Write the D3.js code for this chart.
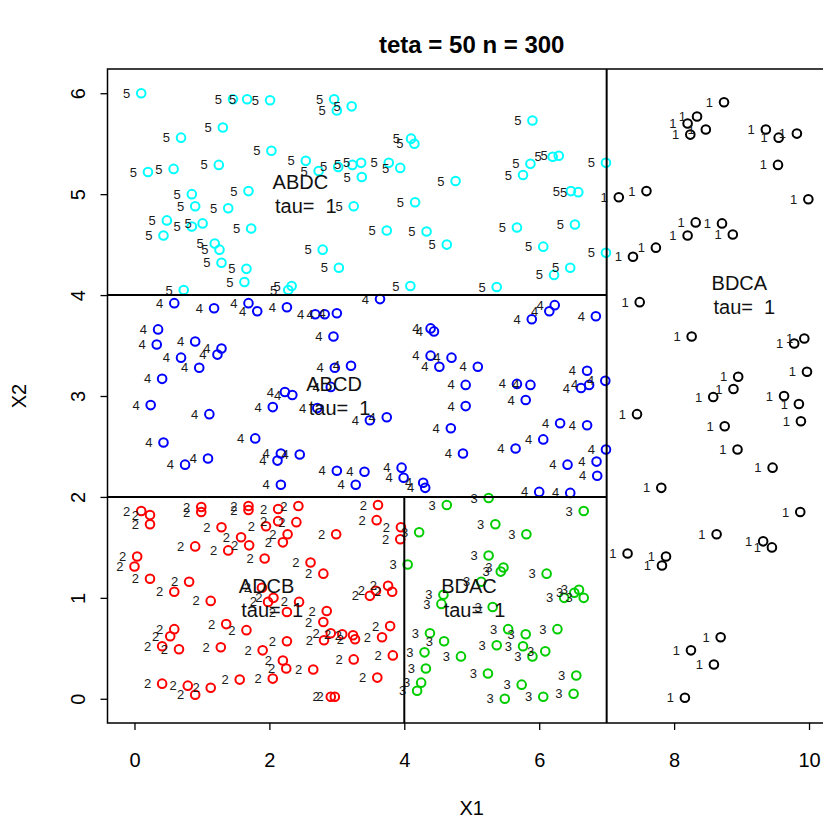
<!DOCTYPE html>
<html>
<head>
<meta charset="utf-8">
<script src="https://cdn.jsdelivr.net/npm/d3@7"></script>
<style>
  body { margin: 0; background: #fff; }
  text { font-family: "Liberation Sans", Arial, sans-serif; }
</style>
</head>
<body>
<svg id="chart" width="823" height="825"></svg>
<script>
// class 1..5, one pair of arrays per class (X1, X2)
const class1X = [8.74,8.34,8.20,8.24,8.47,9.36,9.55,9.82,9.54,9.99,7.59,8.32,8.20,8.71,8.87,7.73,7.18,7.39,8.26,9.78,9.93,9.97,8.95,8.88,8.58,9.63,9.85,9.88,8.75,8.94,9.46,7.81,7.49,7.45,9.87,8.63,9.32,9.45,7.88,7.82,8.69,8.25,8.59,8.16,7.31];
const class1Y = [5.91,5.77,5.70,5.59,5.64,5.64,5.56,5.60,5.29,4.95,5.03,4.72,4.59,4.71,4.60,4.47,4.97,4.38,3.59,3.52,3.57,3.24,3.19,3.07,2.99,3.00,2.92,2.75,2.70,2.47,2.29,2.09,3.93,2.82,1.85,1.63,1.56,1.50,1.41,1.32,0.61,0.48,0.34,0.01,1.44];

const class2X = [0.10,0.23,0.23,0.99,0.99,1.69,1.69,2.13,1.29,1.95,2.13,1.58,1.70,2.27,0.90,1.39,2.20,0.04,0.00,1.93,0.23,0.81,0.59,1.13,1.89,1.98,2.06,2.26,0.59,0.53,0.41,0.66,1.36,1.66,1.28,1.90,2.26,2.20,2.25,0.41,0.79,0.90,1.13,1.56,2.05,
  2.43,3.61,2.40,2.99,3.59,3.95,3.94,2.61,2.80,3.58,3.49,3.76,3.82,2.44,2.85,2.80,2.81,2.91,3.08,3.24,3.27,3.67,3.79,3.83,3.25,2.65,3.60,2.91,2.97];
const class2Y = [1.86,1.82,1.73,1.85,1.90,1.87,1.91,1.88,1.70,1.71,1.76,1.60,1.52,1.63,1.51,1.47,1.55,1.41,1.31,1.39,1.19,1.16,1.06,0.97,1.10,0.96,1.00,0.86,0.69,0.62,0.52,0.49,0.74,0.68,0.51,0.48,0.57,0.38,0.30,0.15,0.13,0.04,0.11,0.19,0.20,
  1.91,1.92,1.75,1.63,1.77,1.70,1.58,1.35,1.24,1.07,1.02,1.12,1.06,0.96,0.87,0.76,0.58,0.65,0.64,0.63,0.59,0.61,0.72,0.43,0.39,0.29,0.21,0.02,0.02];

const class3X = [4.63,4.22,4.05,4.58,4.55,4.38,4.59,4.84,4.30,4.32,4.25,4.19,6.66,5.35,5.81,5.25,5.47,5.43,6.11,6.37,6.52,6.59,6.66,5.31,5.54,5.80,6.27,5.37,5.76,5.90,6.09,5.24,5.74,6.55,5.49,6.06,6.51,5.25,5.14];
const class3Y = [1.92,1.65,1.33,1.03,0.94,0.65,0.57,0.42,0.46,0.30,0.16,0.08,1.86,1.73,1.63,1.42,1.30,1.26,1.24,1.00,1.05,1.08,1.00,0.91,0.69,0.64,0.69,0.53,0.52,0.42,0.47,0.25,0.14,0.23,0.00,0.02,0.05,1.99,1.16];

const class4X = [0.59,1.18,1.69,1.82,2.26,0.35,0.33,0.90,0.69,1.29,1.23,0.96,0.41,0.24,1.11,2.05,2.23,0.43,1.79,1.09,0.75,2.17,2.12,2.17,
  3.64,2.68,2.82,3.00,2.95,4.39,4.44,2.97,3.21,4.39,4.52,4.70,4.91,4.91,2.34,2.91,2.71,3.49,3.74,4.69,2.45,4.87,3.00,3.41,3.96,3.99,3.28,4.28,4.31,
  5.89,6.15,6.23,6.84,5.09,5.67,5.87,5.80,6.71,6.74,6.62,6.98,6.31,6.71,6.06,5.65,6.99,6.85,6.42,6.86,6.00,6.46];
const class4Y = [3.92,3.87,3.92,3.84,3.88,3.66,3.51,3.54,3.38,3.47,3.41,3.28,3.17,2.91,2.82,2.89,3.04,2.54,2.58,2.38,2.32,2.43,2.36,2.12,
  3.96,3.81,3.81,3.82,3.59,3.67,3.64,3.28,3.30,3.40,3.29,3.38,3.11,2.90,3.01,3.09,2.88,2.76,2.79,2.68,2.42,2.43,2.26,2.25,2.29,2.19,2.12,2.14,2.09,
  3.76,3.84,3.90,3.79,3.29,3.12,3.11,2.96,3.25,3.11,3.08,3.15,2.73,2.71,2.57,2.48,2.47,2.35,2.32,2.21,2.05,2.04];

const class5X = [0.10,1.46,1.67,2.01,1.31,0.69,2.03,0.20,0.58,1.25,0.85,1.69,0.90,1.39,0.48,0.85,1.01,1.73,0.43,1.19,1.26,1.29,1.66,1.63,0.73,2.28,2.33,
  2.96,3.00,3.22,4.10,4.15,2.54,2.73,3.02,3.23,3.36,3.77,3.94,3.37,4.76,3.25,4.16,3.74,4.33,4.63,2.79,3.03,4.09,
  5.90,6.20,6.29,5.87,5.76,6.99,6.47,6.58,5.67,6.53,6.06,6.99,6.46,6.22,5.37];
const class5Y = [6.00,5.94,5.94,5.93,5.66,5.56,5.43,5.22,5.25,5.29,5.00,5.03,4.88,4.86,4.74,4.68,4.71,4.66,4.59,4.51,4.45,4.32,4.26,4.13,4.05,4.05,4.09,
  5.94,5.83,5.87,5.55,5.50,5.33,5.23,5.27,5.29,5.31,5.31,5.26,5.17,5.13,4.88,4.92,4.64,4.63,4.50,4.45,4.27,4.09,
  5.73,5.37,5.38,5.30,5.19,5.31,5.03,5.02,4.67,4.70,4.48,4.42,4.27,4.20,4.08];

const classNames = ['1', '2', '3', '4', '5'];
const classColors = ['#000000', '#ff0000', '#00cd00', '#0000ff', '#00ffff'];

// tree partition: vertical / horizontal split segments
const splitX  = [7, 4];        // vertical lines at X1
const splitXY = [[-0.24, 6.24], [-0.24, 2]];
const splitY  = [4, 2];        // horizontal lines at X2
const splitYX = [[-0.4, 7], [-0.4, 7]];

// leaf labels
const leafNames = ['ABDC', 'ABCD', 'ADCB', 'BDAC', 'BDCA'];
const leafX = [2.5, 3, 2, 5, 9];
const leafY = [5, 3, 1, 1, 4];
const leafTau = [1, 1, 1, 1, 1];

const xTicks = [0, 2, 4, 6, 8, 10];
const yTicks = [0, 1, 2, 3, 4, 5, 6];

const svg = d3.select('#chart');

const xScale = d3.scaleLinear().domain([-0.4, 10.4]).range([107.5, 836]);
const yScale = d3.scaleLinear().domain([-0.24, 6.24]).range([723, 69]);

const xs = [class1X, class2X, class3X, class4X, class5X];
const ys = [class1Y, class2Y, class3Y, class4Y, class5Y];
const points = [];
xs.forEach((arr, c) => arr.forEach((v, i) => points.push({ x: v, y: ys[c][i], c: c })));

// points
svg.append('g').selectAll('circle')
    .data(points)
    .enter()
    .append('circle')
    .attr('cx', d => xScale(d.x))
    .attr('cy', d => yScale(d.y))
    .attr('r', 4.3)
    .attr('fill', 'none')
    .attr('stroke', d => classColors[d.c])
    .attr('stroke-width', 2);

// class numbers left of points
svg.append('g').selectAll('text')
    .data(points)
    .enter()
    .append('text')
    .attr('x', d => xScale(d.x) - 11)
    .attr('y', d => yScale(d.y) + 4.6)
    .attr('text-anchor', 'end')
    .style('font-size', '13px')
    .attr('fill', '#1a1a1a')
    .text(d => classNames[d.c]);

// partition lines
splitX.forEach((v, i) => {
  svg.append('line')
      .attr('x1', xScale(v)).attr('x2', xScale(v))
      .attr('y1', yScale(splitXY[i][0])).attr('y2', yScale(splitXY[i][1]))
      .attr('stroke', '#000').attr('stroke-width', 2);
});
splitY.forEach((v, i) => {
  svg.append('line')
      .attr('y1', yScale(v)).attr('y2', yScale(v))
      .attr('x1', xScale(splitYX[i][0])).attr('x2', xScale(splitYX[i][1]))
      .attr('stroke', '#000').attr('stroke-width', 2);
});

// leaf labels (two lines)
leafNames.forEach((name, i) => {
  const t = svg.append('text')
      .attr('text-anchor', 'middle')
      .style('font-size', '20px')
      .style('white-space', 'pre')
      .attr('fill', '#111');
  t.append('tspan')
      .attr('x', xScale(leafX[i]))
      .attr('y', yScale(leafY[i]) - 12.2 + 7)
      .text(name + ' ');
  t.append('tspan')
      .attr('x', xScale(leafX[i]))
      .attr('y', yScale(leafY[i]) + 12.2 + 7)
      .text(' tau=  ' + leafTau[i]);
});

// box
svg.append('rect')
    .attr('x', 107.5).attr('y', 69)
    .attr('width', 836 - 107.5).attr('height', 723 - 69)
    .attr('fill', 'none').attr('stroke', '#000').attr('stroke-width', 1.5);

// x axis
const gx = svg.append('g')
    .attr('transform', 'translate(0,723)')
    .call(d3.axisBottom(xScale).tickValues(xTicks).tickFormat(d3.format('d'))
        .tickSize(7).tickSizeOuter(0).tickPadding(0));
gx.select('.domain').remove();
gx.selectAll('line').attr('stroke-width', 1.3);
gx.selectAll('text')
    .attr('y', 44).attr('dy', null)
    .style('font-size', '20px')
    .attr('fill', '#000');

// y axis, labels parallel to the axis
const gy = svg.append('g')
    .attr('transform', 'translate(107.5,0)')
    .call(d3.axisLeft(yScale).tickValues(yTicks).tickFormat(d3.format('d'))
        .tickSize(7).tickSizeOuter(0));
gy.select('.domain').remove();
gy.selectAll('line').attr('stroke-width', 1.3);
gy.selectAll('text')
    .attr('x', 0).attr('dy', null)
    .attr('transform', 'translate(-23,0) rotate(-90)')
    .attr('text-anchor', 'middle')
    .style('font-size', '20px')
    .attr('fill', '#000');

// title and axis titles
svg.append('text')
    .attr('x', 471.75).attr('y', 53)
    .attr('text-anchor', 'middle')
    .style('font-size', '24px')
    .style('font-weight', 'bold')
    .text('teta = 50 n = 300');

svg.append('text')
    .attr('x', 471.75).attr('y', 815)
    .attr('text-anchor', 'middle')
    .style('font-size', '20px')
    .text('X1');

svg.append('text')
    .attr('transform', 'translate(26,396) rotate(-90)')
    .attr('text-anchor', 'middle')
    .style('font-size', '20px')
    .text('X2');
</script>
</body>
</html>
